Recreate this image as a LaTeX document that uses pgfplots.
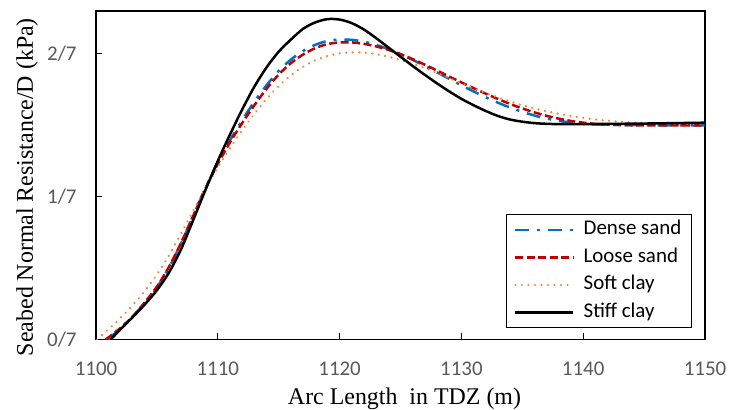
\documentclass[border=0pt]{standalone}
\usepackage{pgfplots}
\pgfplotsset{compat=1.18}
\usepackage{fontspec}
\setmainfont{Carlito}
\newfontfamily\seriffont{Liberation Serif}
\definecolor{cblue}{RGB}{0,112,192}
\definecolor{cred}{RGB}{192,0,0}
\definecolor{corange}{RGB}{240,135,60}
\definecolor{tickgray}{RGB}{89,89,89}
\begin{document}
\begin{tikzpicture}
\begin{axis}[
  at={(96bp,70.5bp)}, anchor=south west,
  width=609bp, height=328.5bp, scale only axis,
  xmin=1100, xmax=1150, ymin=0, ymax=2.3,
  xtick={1100,1110,1120,1130,1140,1150},
  ytick={0,1,2}, yticklabels={0/7,1/7,2/7},
  tick align=inside, xtick pos=left, ytick pos=left,
  major tick length=6bp,
  axis line style={line width=1.5bp},
  tick style={line width=1.2bp, black},
  ticklabel style={font=\fontsize{21}{25}\selectfont, text=tickgray},
  /pgf/number format/assume math mode=true,
  /pgf/number format/1000 sep={},
  xticklabel style={yshift=-19bp},
  yticklabel style={xshift=-16bp},
  xlabel={Arc Length\ \ in TDZ (m)},
  ylabel={Seabed Normal Resistance/D (kPa)},
  label style={font=\seriffont\fontsize{24}{28}\selectfont, text=black},
  xlabel style={at={(axis description cs:0.5066,-0.180)}, anchor=center},
  ylabel style={at={(axis description cs:-0.113,0.464)}, anchor=center, rotate=0},
  legend style={at={(axis description cs:0.9787,0.035)}, anchor=south east,
    draw=black, line width=1.2bp, inner xsep=8bp, inner ysep=3bp,
    font=\fontsize{21}{25}\selectfont, cells={anchor=west},
    nodes={inner sep=2bp, text height=15bp, text depth=5bp},
    row sep=3.5bp, column sep=7bp},
  legend image code/.code={\draw[#1] (0bp,0bp) -- (58bp,0bp);},
  every axis plot/.append style={line width=2.5bp, smooth},
]
\addplot[cblue, dash pattern=on 14bp off 8bp on 3bp off 8bp] coordinates {
(1101,0) (1102,0.08) (1103,0.16) (1104,0.255) (1105,0.365) (1106,0.505) (1107,0.675)
(1108,0.87) (1109,1.065) (1110,1.24) (1111,1.395) (1112,1.535) (1113,1.665) (1114,1.78)
(1115,1.88) (1116,1.96) (1117,2.02) (1118,2.063) (1119,2.09) (1120,2.10) (1121,2.098)
(1122,2.085) (1123,2.063) (1124,2.033) (1125,1.998) (1126,1.958) (1127,1.915) (1128,1.87)
(1129,1.825) (1130,1.78) (1131,1.737) (1132,1.696) (1133,1.658) (1134,1.624) (1135,1.594)
(1136,1.568) (1137,1.547) (1138,1.531) (1139,1.519) (1140,1.511) (1141,1.506) (1143,1.502) (1146,1.50) (1150,1.50)};
\addlegendentry{Dense sand}
\addplot[cred, dash pattern=on 8bp off 3.5bp] coordinates {
(1100.8,0) (1102,0.08) (1103,0.16) (1104,0.26) (1105,0.37) (1106,0.51) (1107,0.68)
(1108,0.87) (1109,1.06) (1110,1.23) (1111,1.38) (1112,1.515) (1113,1.64) (1114,1.755)
(1115,1.855) (1116,1.935) (1117,1.995) (1118,2.04) (1119,2.068) (1120,2.08) (1121,2.08)
(1122,2.07) (1123,2.052) (1124,2.028) (1125,1.998) (1126,1.963) (1127,1.924) (1128,1.883)
(1129,1.841) (1130,1.80) (1131,1.76) (1132,1.721) (1133,1.684) (1134,1.649) (1135,1.618)
(1136,1.59) (1137,1.566) (1138,1.546) (1139,1.53) (1140,1.518) (1141,1.51) (1142,1.505) (1144,1.50) (1150,1.50)};
\addlegendentry{Loose sand}
\addplot[corange, line cap=round, dash pattern=on 0.01bp off 6.5bp] coordinates {
(1100.1,0) (1101,0.07) (1102,0.15) (1103,0.24) (1104,0.34) (1105,0.455) (1106,0.59)
(1107,0.745) (1108,0.905) (1109,1.06) (1110,1.205) (1111,1.34) (1112,1.465) (1113,1.58)
(1114,1.685) (1115,1.775) (1116,1.85) (1117,1.91) (1118,1.955) (1119,1.985) (1120,2.003)
(1121,2.01) (1122,2.008) (1123,1.998) (1124,1.98) (1125,1.957) (1126,1.93) (1127,1.90)
(1128,1.866) (1129,1.83) (1130,1.794) (1131,1.759) (1132,1.726) (1133,1.695) (1134,1.667)
(1135,1.641) (1136,1.618) (1137,1.598) (1138,1.58) (1139,1.565) (1140,1.552) (1141,1.541)
(1142,1.532) (1143,1.525) (1144,1.52) (1145,1.516) (1147,1.512) (1150,1.51)};
\addlegendentry{Soft clay}
\addplot[black] coordinates {
(1101.2,0) (1102,0.07) (1103,0.155) (1104,0.245) (1105,0.345) (1106,0.47) (1107,0.635)
(1108,0.84) (1109,1.05) (1110,1.25) (1111,1.435) (1112,1.61) (1113,1.77) (1114,1.905)
(1115,2.015) (1116,2.10) (1117,2.175) (1118,2.22) (1119,2.243) (1120,2.24) (1121,2.215)
(1122,2.17) (1123,2.11) (1124,2.045) (1125,1.98) (1126,1.915) (1127,1.853) (1128,1.793)
(1129,1.737) (1130,1.685) (1131,1.64) (1132,1.60) (1133,1.565) (1134,1.54) (1135,1.525)
(1136,1.515) (1137,1.51) (1138,1.508) (1140,1.508) (1145,1.512) (1150,1.518)};
\addlegendentry{Stiff clay}
\end{axis}
\pgfresetboundingbox
\useasboundingbox (0,0) rectangle (729bp,410bp);
\end{tikzpicture}
\end{document}
